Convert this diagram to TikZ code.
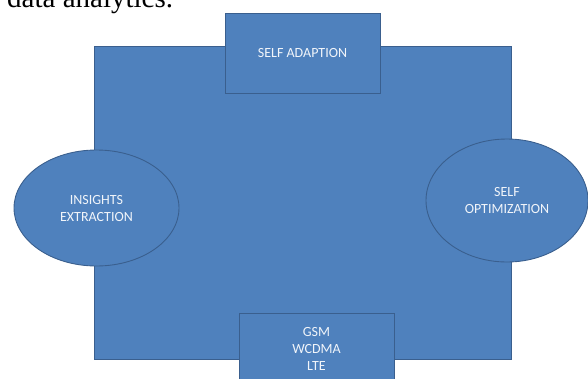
\documentclass[tikz,border=0pt]{standalone}
\usepackage{fontspec}
\setmainfont{Liberation Serif}
\newfontfamily\calib{Carlito}
\usetikzlibrary{shapes.geometric}
\definecolor{ofill}{HTML}{4F81BD}
\definecolor{oline}{HTML}{3A5F8E}
\begin{document}
\begin{tikzpicture}[x=1pt,y=-1pt,
  shp/.style={fill=ofill,draw=oline,line width=0.9pt},
  lbl/.style={text=white!92!ofill,font=\calib\fontsize{14}{17}\selectfont,align=center}]
\useasboundingbox (0,0) rectangle (588,378);
\clip (0,0) rectangle (588,378);
\node[anchor=base west,inner sep=0pt,font=\fontsize{29}{30}\selectfont] (title) at (7,7.5) {data analytics.};
\filldraw[shp] (94,46) rectangle (511,359);
\node[shp,minimum width=155pt,minimum height=80pt,anchor=north west] (top) at (225,13) {};
\node[lbl] (toplbl) at (302.5,53.5) {SELF ADAPTION};
\filldraw[shp] (239,313) rectangle (394,392);
\node[lbl] (botlbl) at (316.5,349) {GSM\\WCDMA\\LTE};
\node[shp,ellipse,minimum width=165pt,minimum height=116pt,inner sep=0pt,lbl] (left) at (96.5,208) {INSIGHTS\\EXTRACTION};
\node[shp,ellipse,minimum width=162pt,minimum height=123pt,inner sep=0pt,lbl] (right) at (507,200.5) {SELF\\OPTIMIZATION};
\end{tikzpicture}
\end{document}
